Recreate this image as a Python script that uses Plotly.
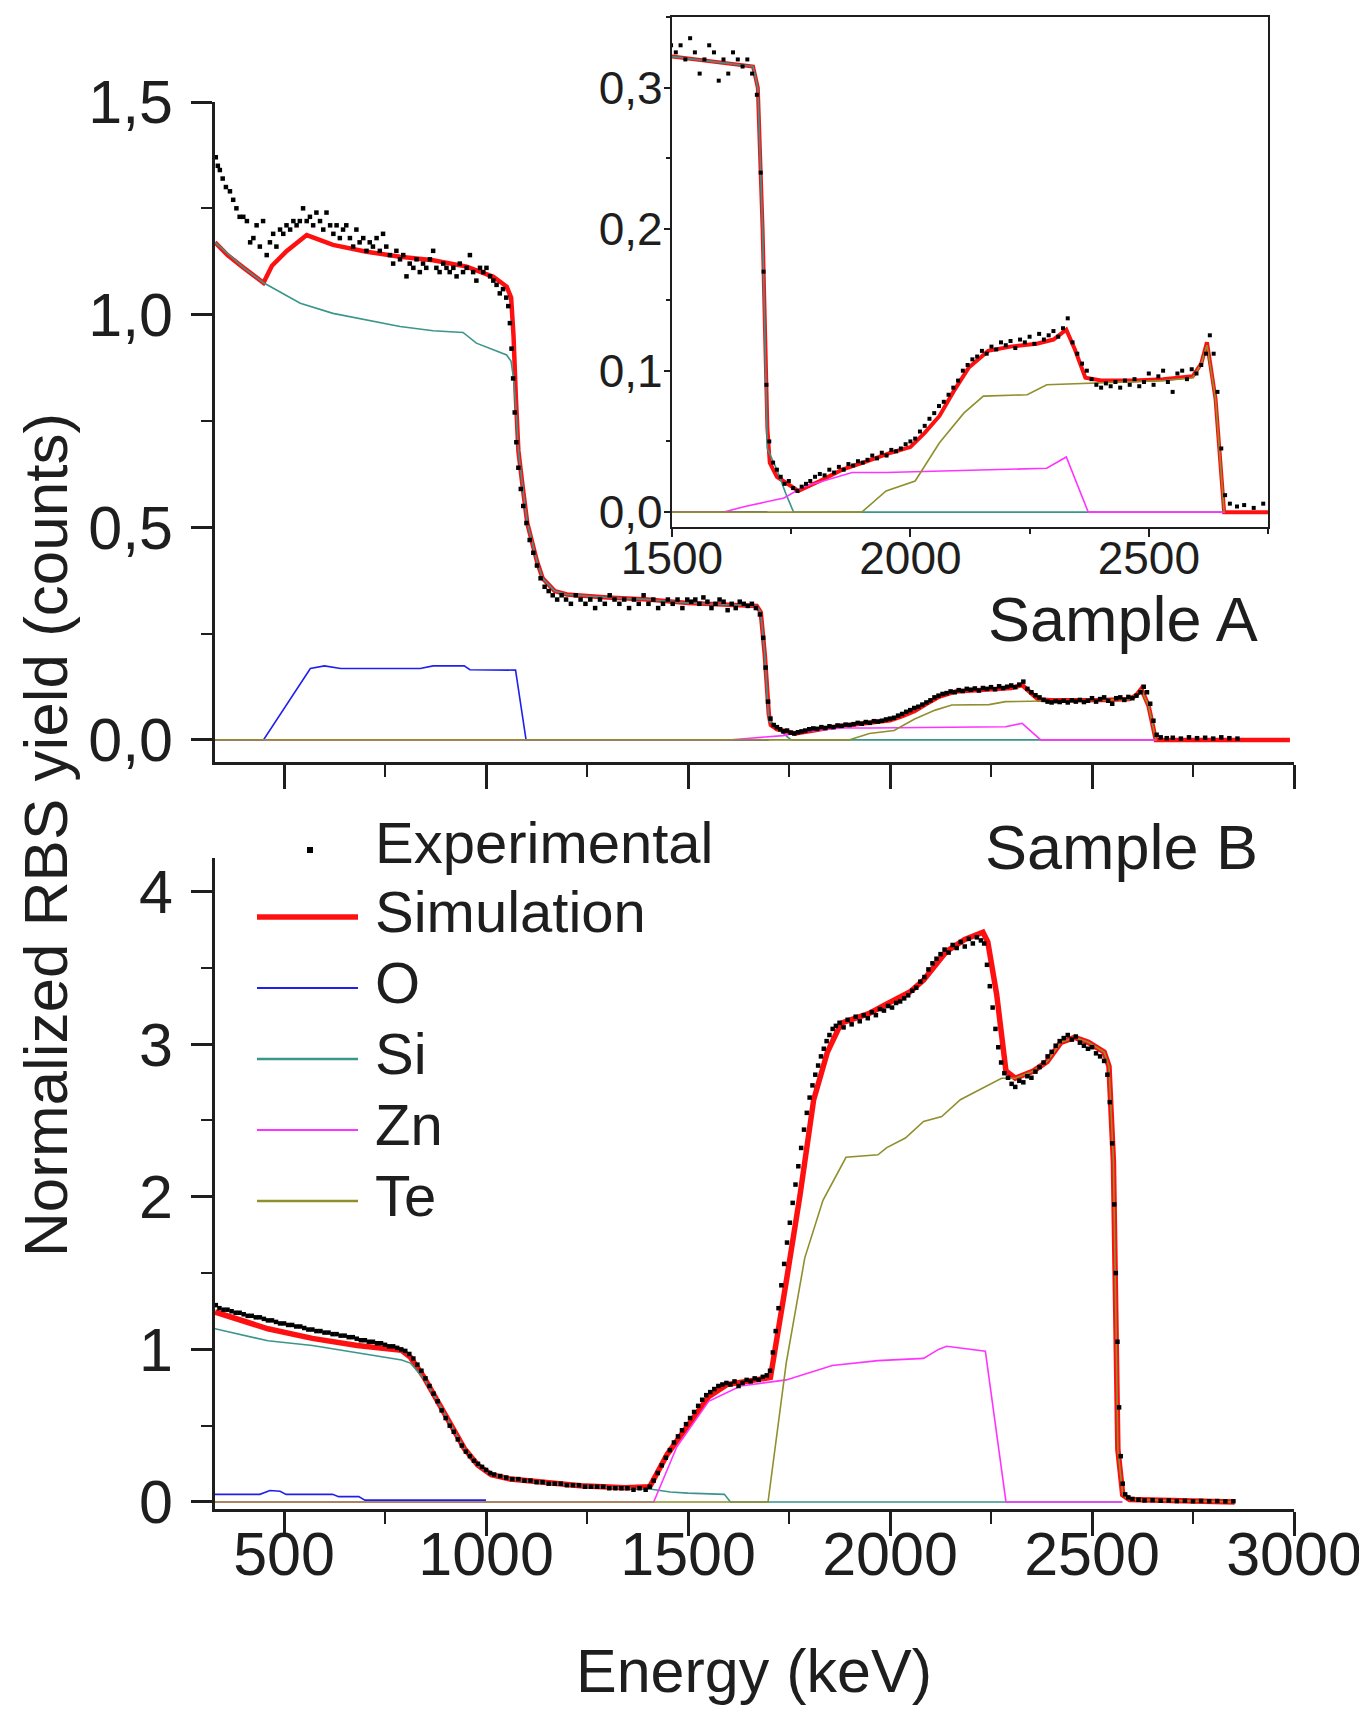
import plotly.graph_objects as go

# ---------------- Sample A (top panel + inset) ----------------
expA_e = [331, 336, 341, 348, 356, 366, 374, 382, 390, 399, 408, 416, 424, 432, 440, 448, 457, 465, 473, 481,
          490, 498, 506, 515, 523, 531, 539, 547, 556, 564, 572, 580, 589, 597, 605, 614, 622, 630, 638, 646,
          654, 663, 671, 679, 687, 696, 704, 712, 720, 729, 737, 745, 753, 762, 770, 778, 787, 795, 803, 811,
          820, 828, 836, 844, 852, 861, 869, 877, 885, 894, 902, 910, 919, 927, 935, 943, 952, 960, 968, 976,
          985, 993, 1001, 1010, 1018, 1026, 1034, 1042, 1050, 1055, 1059, 1063, 1067, 1071, 1075, 1080, 1086, 1092, 1100, 1108,
          1117, 1126, 1135, 1145, 1155, 1165, 1176, 1187, 1198, 1210, 1222, 1234, 1246, 1258, 1270, 1282, 1294, 1306, 1318, 1330,
          1342, 1354, 1366, 1378, 1390, 1402, 1414, 1426, 1438, 1450, 1462, 1474, 1486, 1498, 1508, 1518, 1528, 1538, 1548, 1558,
          1568, 1578, 1588, 1598, 1608, 1618, 1628, 1638, 1648, 1658, 1668, 1678, 1686, 1692, 1698, 1704, 1712, 1720, 1728, 1736,
          1745, 1754, 1763, 1772, 1781, 1790, 1800, 1810, 1820, 1830, 1840, 1850, 1860, 1870, 1880, 1890, 1900, 1910, 1920, 1930,
          1940, 1950, 1960, 1970, 1980, 1990, 2000, 2010, 2020, 2030, 2040, 2050, 2060, 2070, 2080, 2090, 2100, 2110, 2120, 2130,
          2140, 2150, 2160, 2170, 2180, 2190, 2200, 2210, 2220, 2230, 2240, 2250, 2260, 2270, 2280, 2290, 2300, 2310, 2320, 2330,
          2340, 2350, 2360, 2370, 2380, 2390, 2400, 2410, 2420, 2430, 2440, 2450, 2460, 2470, 2480, 2490, 2500, 2510, 2520, 2530,
          2540, 2550, 2560, 2570, 2580, 2590, 2600, 2610, 2620, 2628, 2636, 2644, 2652, 2660, 2670, 2685, 2700, 2720, 2740, 2760,
          2780, 2800, 2820, 2840, 2860]
expA_v = [1.37, 1.35, 1.34, 1.32, 1.30, 1.29, 1.27, 1.25, 1.23, 1.23, 1.22, 1.17, 1.18, 1.21, 1.16, 1.22, 1.14, 1.17, 1.19, 1.16,
          1.20, 1.19, 1.21, 1.20, 1.22, 1.21, 1.22, 1.25, 1.22, 1.23, 1.21, 1.24, 1.22, 1.20, 1.24, 1.21, 1.19, 1.21, 1.18, 1.20,
          1.21, 1.18, 1.16, 1.20, 1.17, 1.18, 1.15, 1.17, 1.16, 1.18, 1.15, 1.19, 1.16, 1.14, 1.12, 1.15, 1.13, 1.14, 1.09, 1.12,
          1.11, 1.13, 1.10, 1.12, 1.11, 1.13, 1.15, 1.11, 1.10, 1.12, 1.11, 1.10, 1.11, 1.09, 1.12, 1.10, 1.11, 1.14, 1.10, 1.08,
          1.11, 1.10, 1.11, 1.09, 1.08, 1.07, 1.05, 1.06, 1.04, 1.02, 0.98, 0.92, 0.85, 0.77, 0.70, 0.64, 0.59, 0.55, 0.51, 0.47,
          0.44, 0.41, 0.38, 0.36, 0.35, 0.34, 0.33, 0.34, 0.33, 0.32, 0.34, 0.33, 0.32, 0.33, 0.31, 0.33, 0.32, 0.34, 0.33, 0.32,
          0.33, 0.31, 0.33, 0.32, 0.34, 0.32, 0.33, 0.31, 0.32, 0.33, 0.32, 0.33, 0.31, 0.33, 0.325, 0.33, 0.32, 0.335, 0.325, 0.31,
          0.32, 0.33, 0.325, 0.305, 0.32, 0.31, 0.325, 0.32, 0.315, 0.32, 0.31, 0.295, 0.24, 0.17, 0.09, 0.05, 0.035, 0.03, 0.025, 0.02,
          0.022, 0.017, 0.015, 0.018, 0.02, 0.022, 0.025, 0.027, 0.026, 0.03, 0.028, 0.032, 0.03, 0.034, 0.033, 0.036, 0.035, 0.037, 0.04, 0.038,
          0.042, 0.04, 0.044, 0.043, 0.045, 0.048, 0.05, 0.052, 0.057, 0.061, 0.066, 0.07, 0.075, 0.078, 0.083, 0.088, 0.093, 0.1, 0.104, 0.108,
          0.11, 0.114, 0.112, 0.117, 0.115, 0.12, 0.118, 0.121, 0.116, 0.122, 0.12, 0.124, 0.119, 0.126, 0.122, 0.125, 0.128, 0.124, 0.13, 0.137,
          0.12, 0.112, 0.105, 0.1, 0.094, 0.09, 0.088, 0.091, 0.089, 0.092, 0.088, 0.093, 0.09, 0.094, 0.089, 0.092, 0.098, 0.09, 0.096, 0.1,
          0.092, 0.085, 0.098, 0.1, 0.094, 0.101, 0.098, 0.104, 0.112, 0.125, 0.112, 0.085, 0.045, 0.012, 0.006, 0.004, 0.005, 0.003, 0.006, 0.004,
          0.005, 0.003, 0.006, 0.004, 0.003]

simA_e = [329, 360, 400, 449, 470, 506, 556, 621, 704, 787, 869, 952, 1018, 1051, 1062, 1068, 1074, 1080, 1090, 1102,
          1126, 1140, 1170, 1200, 1300, 1400, 1500, 1600, 1670, 1680, 1690, 1700, 1705, 1720, 1765, 1810, 1857, 1910, 1959, 2000,
          2030, 2061, 2090, 2122, 2163, 2210, 2265, 2300, 2327, 2345, 2367, 2400, 2469, 2530, 2592, 2610, 2622, 2640, 2658, 2990]
simA_v = [1.17, 1.14, 1.11, 1.075, 1.115, 1.149, 1.187, 1.164, 1.148, 1.136, 1.128, 1.113, 1.089, 1.066, 1.04, 0.95, 0.8, 0.68, 0.6, 0.51,
          0.42, 0.38, 0.35, 0.342, 0.335, 0.33, 0.322, 0.318, 0.315, 0.3, 0.2, 0.06, 0.035, 0.025, 0.015, 0.022, 0.03, 0.036, 0.042, 0.046,
          0.056, 0.068, 0.085, 0.102, 0.114, 0.117, 0.119, 0.122, 0.129, 0.115, 0.095, 0.093, 0.093, 0.094, 0.096, 0.105, 0.12, 0.08, 0.0, 0.0]

oA_e = [329, 449, 565, 600, 640, 837, 869, 946, 960, 1073, 1099, 1700]
oA_v = [0.0, 0.0, 0.168, 0.174, 0.168, 0.168, 0.174, 0.174, 0.165, 0.164, 0.0, 0.0]

siA_e = [329, 400, 449, 540, 621, 704, 787, 869, 943, 976, 1010, 1051, 1062, 1068, 1074, 1080, 1090, 1102, 1126, 1140,
         1170, 1200, 1300, 1400, 1500, 1600, 1670, 1680, 1690, 1700, 1720, 1740, 1755, 2660]
siA_v = [1.17, 1.11, 1.075, 1.027, 1.003, 0.988, 0.972, 0.962, 0.958, 0.933, 0.921, 0.905, 0.89, 0.85, 0.78, 0.68, 0.6, 0.51, 0.42, 0.38,
         0.35, 0.342, 0.335, 0.33, 0.322, 0.318, 0.315, 0.3, 0.2, 0.045, 0.03, 0.012, 0.0, 0.0]

znA_e = [329, 1607, 1653, 1735, 1776, 1878, 1949, 2194, 2286, 2327, 2373, 2660]
znA_v = [0.0, 0.0, 0.004, 0.01, 0.018, 0.028, 0.028, 0.03, 0.031, 0.039, 0.0, 0.0]

teA_e = [329, 1898, 1949, 2010, 2061, 2112, 2153, 2245, 2286, 2367, 2469, 2530, 2592, 2610, 2622, 2640, 2658]
teA_v = [0.0, 0.0, 0.015, 0.022, 0.049, 0.07, 0.082, 0.083, 0.09, 0.091, 0.092, 0.093, 0.095, 0.105, 0.118, 0.08, 0.0]

# ---------------- Sample B (bottom panel) ----------------
expB_e = [331, 340, 350, 360, 370, 380, 390, 400, 410, 420, 430, 440, 450, 460, 470, 480, 490, 500, 510, 520,
          530, 540, 550, 560, 570, 580, 590, 600, 610, 620, 630, 640, 650, 660, 670, 680, 690, 700, 710, 720,
          730, 740, 750, 760, 770, 780, 790, 800, 810, 820, 830, 840, 850, 860, 870, 880, 890, 900, 910, 920,
          930, 940, 950, 960, 970, 980, 990, 1000, 1010, 1020, 1035, 1050, 1065, 1080, 1095, 1110, 1125, 1140, 1155, 1170,
          1185, 1200, 1215, 1230, 1245, 1260, 1275, 1290, 1305, 1320, 1335, 1350, 1365, 1380, 1395, 1405, 1415, 1425, 1435, 1445,
          1455, 1465, 1475, 1485, 1495, 1505, 1515, 1525, 1535, 1545, 1555, 1565, 1575, 1585, 1595, 1605, 1615, 1625, 1635, 1645,
          1655, 1665, 1675, 1685, 1695, 1703, 1710, 1717, 1724, 1731, 1738, 1745, 1752, 1759, 1766, 1773, 1780, 1787, 1794, 1801,
          1808, 1815, 1822, 1829, 1836, 1843, 1850, 1858, 1866, 1875, 1885, 1895, 1905, 1915, 1925, 1935, 1945, 1955, 1965, 1975,
          1985, 1995, 2005, 2015, 2025, 2035, 2045, 2055, 2065, 2075, 2085, 2095, 2105, 2115, 2125, 2135, 2145, 2155, 2165, 2175,
          2185, 2195, 2205, 2215, 2225, 2233, 2240, 2247, 2254, 2261, 2268, 2275, 2283, 2292, 2301, 2310, 2320, 2330, 2340, 2350,
          2360, 2370, 2380, 2390, 2400, 2410, 2420, 2430, 2440, 2450, 2460, 2470, 2480, 2490, 2500, 2510, 2520, 2530, 2538, 2544,
          2550, 2555, 2559, 2563, 2567, 2571, 2576, 2582, 2590, 2600, 2615, 2630, 2650, 2670, 2690, 2710, 2730, 2750, 2770, 2790,
          2810, 2830, 2850]
expB_v = [1.29, 1.27, 1.26, 1.26, 1.25, 1.24, 1.24, 1.23, 1.22, 1.22, 1.21, 1.21, 1.20, 1.19, 1.19, 1.18, 1.17, 1.17, 1.16, 1.16,
          1.15, 1.15, 1.14, 1.13, 1.13, 1.12, 1.12, 1.11, 1.11, 1.10, 1.10, 1.09, 1.09, 1.08, 1.08, 1.07, 1.06, 1.06, 1.05, 1.05,
          1.04, 1.04, 1.03, 1.02, 1.02, 1.01, 1.00, 0.99, 0.97, 0.94, 0.90, 0.86, 0.81, 0.76, 0.71, 0.66, 0.60, 0.55, 0.50, 0.46,
          0.41, 0.37, 0.33, 0.30, 0.27, 0.25, 0.23, 0.21, 0.19, 0.18, 0.17, 0.16, 0.15, 0.15, 0.14, 0.14, 0.13, 0.13, 0.12, 0.12,
          0.12, 0.11, 0.11, 0.11, 0.10, 0.10, 0.10, 0.10, 0.09, 0.09, 0.09, 0.09, 0.08, 0.09, 0.08, 0.10, 0.14, 0.19, 0.24, 0.29,
          0.34, 0.39, 0.43, 0.47, 0.51, 0.55, 0.59, 0.63, 0.67, 0.70, 0.72, 0.74, 0.76, 0.77, 0.78, 0.77, 0.79, 0.76, 0.78, 0.80,
          0.79, 0.81, 0.80, 0.82, 0.83, 0.86, 0.98, 1.12, 1.27, 1.42, 1.56, 1.70, 1.83, 1.96, 2.08, 2.20, 2.32, 2.44, 2.55, 2.65,
          2.73, 2.80, 2.86, 2.92, 2.97, 3.02, 3.06, 3.10, 3.12, 3.14, 3.11, 3.16, 3.13, 3.18, 3.15, 3.19, 3.17, 3.21, 3.19, 3.23,
          3.22, 3.25, 3.24, 3.27, 3.28, 3.30, 3.32, 3.35, 3.37, 3.41, 3.44, 3.49, 3.53, 3.56, 3.59, 3.62, 3.60, 3.65, 3.63, 3.67,
          3.64, 3.69, 3.66, 3.70, 3.68, 3.66, 3.52, 3.38, 3.24, 3.10, 2.98, 2.88, 2.81, 2.78, 2.74, 2.72, 2.76, 2.75, 2.79, 2.78,
          2.82, 2.85, 2.88, 2.92, 2.95, 2.99, 3.02, 3.04, 3.06, 3.03, 3.05, 3.01, 2.99, 2.97, 2.98, 2.94, 2.92, 2.89, 2.80, 2.62,
          2.35, 1.95, 1.50, 1.05, 0.62, 0.30, 0.12, 0.05, 0.03, 0.02, 0.015, 0.01, 0.012, 0.008, 0.01, 0.006, 0.008, 0.005, 0.007, 0.005,
          0.006, 0.004, 0.005]

simB_e = [329, 400, 460, 570, 681, 791, 813, 846, 880, 913, 946, 980, 1013, 1060, 1123, 1233, 1344, 1405, 1449, 1506,
          1551, 1596, 1650, 1704, 1743, 1777, 1811, 1845, 1879, 1947, 1992, 2049, 2083, 2140, 2185, 2230, 2242, 2264, 2287, 2310,
          2355, 2389, 2423, 2457, 2491, 2530, 2542, 2553, 2564, 2576, 2593, 2853]
simB_v = [1.245, 1.19, 1.135, 1.072, 1.025, 0.994, 0.947, 0.82, 0.665, 0.508, 0.351, 0.241, 0.179, 0.15, 0.132, 0.107, 0.094, 0.1, 0.314, 0.533,
          0.69, 0.769, 0.79, 0.816, 1.443, 2.008, 2.636, 2.949, 3.138, 3.2, 3.263, 3.342, 3.42, 3.608, 3.687, 3.734, 3.67, 3.326, 2.824, 2.777,
          2.824, 2.887, 3.012, 3.044, 3.012, 2.949, 2.855, 2.228, 0.345, 0.047, 0.016, 0.0]

oB_e = [329, 440, 465, 490, 505, 620, 635, 685, 700, 1000]
oB_v = [0.05, 0.05, 0.075, 0.07, 0.05, 0.05, 0.035, 0.035, 0.012, 0.012]

siB_e = [329, 460, 570, 681, 791, 813, 846, 880, 913, 946, 980, 1013, 1060, 1123, 1233, 1344, 1405, 1456, 1500, 1590, 1605, 2575]
siB_v = [1.135, 1.056, 1.025, 0.978, 0.931, 0.91, 0.81, 0.66, 0.505, 0.35, 0.24, 0.178, 0.15, 0.13, 0.105, 0.09, 0.085, 0.065, 0.058, 0.05, 0.0, 0.0]

znB_e = [329, 1415, 1472, 1551, 1630, 1743, 1857, 1970, 2083, 2120, 2140, 2196, 2236, 2287, 2575]
znB_v = [0.0, 0.0, 0.36, 0.66, 0.76, 0.8, 0.894, 0.926, 0.941, 1.0, 1.02, 1.004, 0.988, 0.0, 0.0]

teB_e = [329, 1698, 1743, 1789, 1834, 1891, 1970, 1992, 2038, 2083, 2128, 2174, 2219, 2276, 2310, 2355, 2389, 2423, 2457, 2491,
         2530, 2542, 2553, 2564, 2576, 2593, 2853]
teB_v = [0.0, 0.0, 0.91, 1.6, 1.977, 2.259, 2.275, 2.322, 2.385, 2.494, 2.526, 2.636, 2.698, 2.777, 2.777, 2.824, 2.887, 3.012, 3.044, 3.012,
         2.949, 2.855, 2.228, 0.345, 0.047, 0.016, 0.0]

# ---------------- Labels ----------------
legend_labels = ["Experimental", "Simulation", "O", "Si", "Zn", "Te"]
x_title = "Energy (keV)"
y_title = "Normalized RBS yield (counts)"
sample_labels = ["Sample A", "Sample B"]

# ---------------- Styles ----------------
C_SIM = "#ff1010"
C_O = "#2020ee"
C_SI = "#3a958a"
C_ZN = "#ff33ff"
C_TE = "#8f8f2e"
C_TXT = "#1e1e1e"
FONT = "Liberation Sans, Arial, sans-serif"
OFF = 8                      # default page margin of the html body
W, H = 1367 - OFF, 1711 - OFF


def px_x(p):
    return (p - OFF) / W


def px_y(p):
    return 1 - (p - OFF) / H


fig = go.Figure()


def add_set(xa, ya, sim, o, si, zn, te, exp, simw=4.5, ew=1.6, msize=4.5):
    fig.add_trace(go.Scatter(x=sim[0], y=sim[1], mode="lines", line=dict(color=C_SIM, width=simw),
                             xaxis=xa, yaxis=ya, showlegend=False))
    for (e, v), c in zip([o, si, zn, te], [C_O, C_SI, C_ZN, C_TE]):
        fig.add_trace(go.Scatter(x=e, y=v, mode="lines", line=dict(color=c, width=ew),
                                 xaxis=xa, yaxis=ya, showlegend=False))
    fig.add_trace(go.Scatter(x=exp[0], y=exp[1], mode="markers",
                             marker=dict(color="black", size=msize, symbol="square", line=dict(width=0)),
                             xaxis=xa, yaxis=ya, showlegend=False))


# bottom panel: sample B
add_set("x", "y", (simB_e, simB_v), (oB_e, oB_v), (siB_e, siB_v), (znB_e, znB_v), (teB_e, teB_v), (expB_e, expB_v), simw=5.5)
# top panel: sample A
add_set("x2", "y2", (simA_e, simA_v), (oA_e, oA_v), (siA_e, siA_v), (znA_e, znA_v), (teA_e, teA_v), (expA_e, expA_v))
# inset: sample A zoom
add_set("x3", "y3", (simA_e, simA_v), (oA_e, oA_v), (siA_e, siA_v), (znA_e, znA_v), (teA_e, teA_v), (expA_e, expA_v),
        simw=4, ew=1.6, msize=4)

axis_common = dict(showline=True, linecolor=C_TXT, linewidth=2.5, showgrid=False, zeroline=False,
                   automargin=False,
                   ticks="outside", tickcolor=C_TXT, tickwidth=2.5,
                   tickfont=dict(family=FONT, size=61, color=C_TXT))

xdom = [px_x(215), px_x(1294)]

fig.update_layout(
    width=W, height=H, autosize=False,
    margin=dict(l=0, r=0, t=0, b=0, autoexpand=False),
    paper_bgcolor="white", plot_bgcolor="white",
    separators=", ",
    showlegend=False,
    xaxis=dict(**axis_common, domain=xdom, anchor="y", range=[329, 3000], tick0=0, dtick=500, ticklen=24,
               ticklabelstandoff=-34,
               minor=dict(dtick=250, tick0=0, ticks="outside", ticklen=12, tickwidth=2, tickcolor=C_TXT)),
    yaxis=dict(**axis_common, domain=[px_y(1509), px_y(858)], anchor="x", range=[-0.046, 4.22], tick0=0, dtick=1,
               ticklen=21, ticklabelstandoff=6,
               minor=dict(dtick=0.5, tick0=0, ticks="outside", ticklen=11, tickwidth=2, tickcolor=C_TXT)),
    xaxis2=dict(**axis_common, domain=xdom, anchor="y2", range=[329, 3000], tick0=0, dtick=500, ticklen=24,
                showticklabels=False,
                minor=dict(dtick=250, tick0=0, ticks="outside", ticklen=12, tickwidth=2, tickcolor=C_TXT)),
    yaxis2=dict(**axis_common, domain=[px_y(762), px_y(102)], anchor="x2", range=[-0.052, 1.5], tick0=0, dtick=0.5,
                tickformat=".1f", ticklen=21, ticklabelstandoff=6,
                minor=dict(dtick=0.25, tick0=0, ticks="outside", ticklen=11, tickwidth=2, tickcolor=C_TXT)),
    xaxis3=dict(showline=True, linecolor=C_TXT, linewidth=2.2, mirror=True, showgrid=False, zeroline=False,
                automargin=False,
                ticks="outside", tickcolor=C_TXT, tickwidth=2, ticklen=8, ticklabelstandoff=-18,
                tickfont=dict(family=FONT, size=46, color=C_TXT),
                domain=[px_x(672), px_x(1268)], anchor="y3", range=[1500, 2750], tick0=0, dtick=500,
                minor=dict(dtick=250, tick0=0, ticks="outside", ticklen=5, tickwidth=2, tickcolor=C_TXT)),
    yaxis3=dict(showline=True, linecolor=C_TXT, linewidth=2.2, mirror=True, showgrid=False, zeroline=False,
                automargin=False,
                ticks="outside", tickcolor=C_TXT, tickwidth=2, ticklen=6, ticklabelstandoff=-8,
                tickfont=dict(family=FONT, size=46, color=C_TXT),
                domain=[px_y(527), px_y(17)], anchor="x3", range=[-0.0105, 0.35], tick0=0, dtick=0.1,
                tickformat=".1f",
                minor=dict(dtick=0.05, tick0=0, ticks="outside", ticklen=4, tickwidth=2, tickcolor=C_TXT)),
)

annotations = [
    dict(text=y_title, x=px_x(46), y=px_y(835), textangle=-90, font=dict(family=FONT, size=62, color=C_TXT)),
    dict(text=x_title, x=px_x(754), y=px_y(1671), font=dict(family=FONT, size=61, color=C_TXT)),
    dict(text=sample_labels[0], x=px_x(1260), y=px_y(619), xanchor="right", font=dict(family=FONT, size=63, color=C_TXT)),
    dict(text=sample_labels[1], x=px_x(1260), y=px_y(847), xanchor="right", font=dict(family=FONT, size=63, color=C_TXT)),
]
for a in annotations:
    a.update(xref="paper", yref="paper", showarrow=False)
    a.setdefault("xanchor", "center")
    a.setdefault("yanchor", "middle")

# manual legend
leg_text_y = [842, 911, 982, 1053, 1124, 1195]
leg_colors = [None, C_SIM, C_O, C_SI, C_ZN, C_TE]
leg_widths = [0, 5.5, 2, 2.5, 2, 2.5]
shapes = []
for lab, ty, col, lw in zip(legend_labels, leg_text_y, leg_colors, leg_widths):
    annotations.append(dict(text=lab, x=px_x(373), y=px_y(ty), xref="paper", yref="paper", showarrow=False,
                            xanchor="left", yanchor="middle", font=dict(family=FONT, size=58, color=C_TXT)))
    if col is None:
        shapes.append(dict(type="rect", xref="paper", yref="paper", x0=px_x(307), x1=px_x(313),
                           y0=px_y(853), y1=px_y(847), fillcolor="black", line=dict(width=0)))
    else:
        ly = ty + 6
        shapes.append(dict(type="line", xref="paper", yref="paper", x0=px_x(257), x1=px_x(358),
                           y0=px_y(ly), y1=px_y(ly), line=dict(color=col, width=lw)))

fig.update_layout(annotations=annotations, shapes=shapes)

fig.write_html("out.html")
